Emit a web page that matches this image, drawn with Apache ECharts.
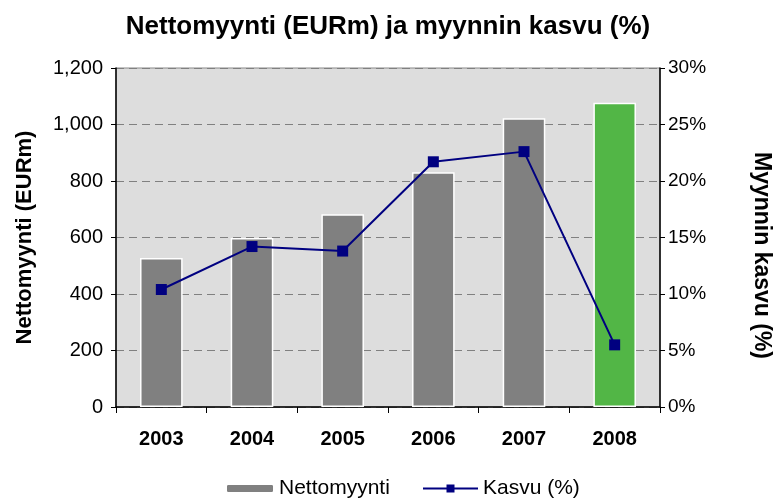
<!DOCTYPE html>
<html>
<head>
<meta charset="utf-8">
<script src="https://cdn.jsdelivr.net/npm/echarts@6/dist/echarts.min.js"></script>
<style>
  html, body { margin: 0; padding: 0; background: #fff; }
  #chart { width: 776px; height: 500px; }
</style>
</head>
<body>
<div id="chart"></div>
<script>
const years = ['2003', '2004', '2005', '2006', '2007', '2008']
const netSales = [527, 598, 682, 831, 1022, 1077]
const growth = [10.4, 14.2, 13.8, 21.7, 22.6, 5.5]

const font = '"Liberation Sans", Arial, sans-serif'
const chart = echarts.init(document.getElementById('chart'))

chart.setOption({
  animation: false,
  textStyle: { fontFamily: font },
  title: {
    text: 'Nettomyynti (EURm) ja myynnin kasvu (%)',
    left: 'center',
    top: 9,
    textStyle: { fontSize: 26, fontWeight: 'bold', color: '#000', fontFamily: font },
  },
  legend: [
    {
      data: ['Nettomyynti'],
      left: 220,
      top: 473,
      itemWidth: 48,
      itemHeight: 9,
      itemGap: 8,
      textStyle: { fontSize: 21, color: '#000', fontFamily: font },
    },
    {
      data: ['Kasvu (%)'],
      left: 417,
      top: 473,
      itemWidth: 55,
      itemHeight: 10,
      textStyle: { fontSize: 21, color: '#000', fontFamily: font },
    },
  ],
  grid: {
    left: 116,
    right: 116,
    top: 68,
    bottom: 93,
    outerBoundsMode: 'none',
    show: true,
    backgroundColor: '#dddddd',
    borderColor: '#888',
    borderWidth: 1,
  },
  xAxis: {
    type: 'category',
    data: years,
    axisLine: { lineStyle: { color: '#000', width: 1.5 } },
    axisTick: { show: true, length: 6, lineStyle: { color: '#000' } },
    axisLabel: { fontSize: 20, fontWeight: 'bold', color: '#000', margin: 22 },
  },
  yAxis: [
    {
      type: 'value',
      min: 0,
      max: 1200,
      interval: 200,
      name: 'Nettomyynti (EURm)',
      nameLocation: 'middle',
      nameRotate: 90,
      nameGap: 80,
      nameTextStyle: { fontSize: 22, fontWeight: 'bold', color: '#000' },
      axisLine: { show: true, lineStyle: { color: '#000', width: 1.5 } },
      axisTick: { show: true, length: 5, lineStyle: { color: '#000' } },
      axisLabel: {
        fontSize: 20,
        color: '#000',
        margin: 13,
        formatter: v => v.toLocaleString('en-US'),
      },
      splitLine: { show: true, lineStyle: { color: '#808080', type: [8, 5] } },
    },
    {
      type: 'value',
      min: 0,
      max: 30,
      interval: 5,
      name: 'Myynnin kasvu (%)',
      nameLocation: 'middle',
      nameRotate: -90,
      nameGap: 90,
      nameTextStyle: { fontSize: 23, fontWeight: 'bold', color: '#000', padding: [0, 0, 0, 36] },
      axisLine: { show: true, lineStyle: { color: '#000', width: 1.5 } },
      axisTick: { show: true, length: 5, lineStyle: { color: '#000' } },
      axisLabel: { fontSize: 19, color: '#000', margin: 8, formatter: '{value}%' },
      splitLine: { show: false },
    },
  ],
  series: [
    {
      name: 'Nettomyynti',
      type: 'bar',
      data: netSales.map((v, i) => ({
        value: v,
        itemStyle: i === netSales.length - 1 ? { color: '#52b646' } : undefined,
      })),
      barWidth: '47%',
      itemStyle: { color: '#808080', borderColor: '#fff', borderWidth: 1.5 },
    },
    {
      name: 'Kasvu (%)',
      type: 'line',
      yAxisIndex: 1,
      data: growth,
      symbol: 'rect',
      symbolSize: 11,
      lineStyle: { color: '#000080', width: 2 },
      itemStyle: { color: '#000080' },
    },
  ],
})
</script>
</body>
</html>
